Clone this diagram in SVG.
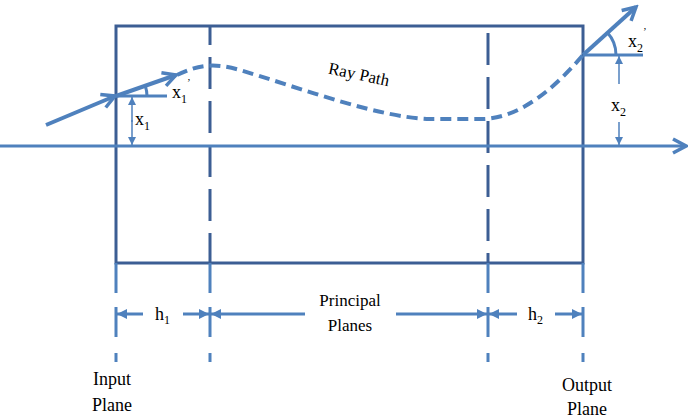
<svg xmlns="http://www.w3.org/2000/svg" width="688" height="420" viewBox="0 0 688 420">
<style>
.box{fill:none;stroke:#3C5E94;stroke-width:3}
.pp{fill:none;stroke:#3C5E94;stroke-width:3;stroke-dasharray:32 12}
.ext{fill:none;stroke:#4F81BD;stroke-width:3;stroke-dasharray:30 14 30 16 9 200}
.ray{fill:none;stroke:#4F81BD;stroke-width:4;stroke-linecap:butt}
.rayd{fill:none;stroke:#4F81BD;stroke-width:4;stroke-dasharray:11 6}
.axis{fill:none;stroke:#4F81BD;stroke-width:3}
.thin{fill:none;stroke:#4F81BD;stroke-width:3}
.dim{fill:none;stroke:#4F81BD;stroke-width:3}
.dimv{fill:none;stroke:#4F81BD;stroke-width:1.5}
text{font-family:"Liberation Serif","Times New Roman",serif;fill:#000;font-size:17px}
.big{font-size:18px}
.sub{font-size:12px}
</style>
<defs>
<marker id="chev" viewBox="0 0 18 18" refX="15" refY="9" markerWidth="18" markerHeight="18" markerUnits="userSpaceOnUse" orient="auto">
<path d="M2,2 L15,9 L2,16" fill="none" stroke="#4F81BD" stroke-width="3.5" stroke-linejoin="miter"/>
</marker>
<marker id="tri" viewBox="0 0 10 10" refX="10" refY="5" markerWidth="10" markerHeight="10" markerUnits="userSpaceOnUse" orient="auto">
<path d="M0,0 L10,5 L0,10 z" fill="#4F81BD"/>
</marker>
<marker id="tris" viewBox="0 0 10 10" refX="10" refY="5" markerWidth="8" markerHeight="8" markerUnits="userSpaceOnUse" orient="auto">
<path d="M0,0 L10,5 L0,10 z" fill="#4F81BD"/>
</marker>
</defs>

<g id="lens-box">
<rect class="box" x="116" y="26" width="467" height="237"/>
</g>
<g id="principal-planes">
<line class="pp" x1="210" y1="26" x2="210" y2="263" stroke-dashoffset="13"/>
<line class="pp" x1="488" y1="26" x2="488" y2="263" stroke-dashoffset="37"/>
</g>
<g id="extension-lines">
<line class="ext" x1="116" y1="263" x2="116" y2="362"/>
<line class="ext" x1="210" y1="263" x2="210" y2="362"/>
<line class="ext" x1="488" y1="263" x2="488" y2="362"/>
<line class="ext" x1="583" y1="263" x2="583" y2="362"/>
</g>
<g id="axis">
<line class="axis" x1="0" y1="146" x2="686" y2="146" marker-end="url(#chev)"/>
</g>

<g id="connectors">
<line class="ray" x1="46" y1="125" x2="115" y2="96" marker-end="url(#chev)"/>
<line class="ray" x1="116" y1="96" x2="176" y2="75" marker-end="url(#chev)"/>
<path class="rayd" d="M177,75 C200,64 215,63 240,70 C300,88 380,118 430,119 L483,119 C520,118 555,88 583,55"/>
<line class="ray" x1="583" y1="55" x2="636" y2="7" marker-end="url(#chev)"/>
<line class="thin" x1="116" y1="96" x2="167" y2="96"/>
<path class="thin" d="M147,96 A31,31 0 0 0 145.3,85.9"/>
<line class="thin" x1="583" y1="55" x2="643" y2="55"/>
<path class="thin" d="M616,55 A33,33 0 0 0 607.3,32.6"/>
<line class="dimv" x1="132" y1="122" x2="132" y2="97" marker-end="url(#tris)"/>
<line class="dimv" x1="132" y1="120" x2="132" y2="145" marker-end="url(#tris)"/>
<line class="dimv" x1="619" y1="84" x2="619" y2="56" marker-end="url(#tris)"/>
<line class="dimv" x1="619" y1="122" x2="619" y2="145" marker-end="url(#tris)"/>
<line class="dim" x1="143" y1="314" x2="117" y2="314" marker-end="url(#tri)"/>
<line class="dim" x1="183" y1="314" x2="209" y2="314" marker-end="url(#tri)"/>
<line class="dim" x1="305" y1="314" x2="211" y2="314" marker-end="url(#tri)"/>
<line class="dim" x1="396" y1="314" x2="487" y2="314" marker-end="url(#tri)"/>
<line class="dim" x1="517" y1="314" x2="489" y2="314" marker-end="url(#tri)"/>
<line class="dim" x1="555" y1="314" x2="582" y2="314" marker-end="url(#tri)"/>
</g>

<g id="labels">
<text x="172" y="98" class="big">x<tspan class="sub" dy="5">1</tspan><tspan font-size="11" dy="-17">’</tspan></text>
<text x="135" y="125" class="big">x<tspan class="sub" dy="5">1</tspan></text>
<text x="628" y="47" class="big">x<tspan class="sub" dy="5">2</tspan><tspan font-size="11" dy="-17">’</tspan></text>
<text x="611" y="111" class="big">x<tspan class="sub" dy="5">2</tspan></text>
<text x="326" y="80" transform="rotate(12 358 84)">Ray Path</text>
<text x="155" y="320" class="big">h<tspan class="sub" dy="4">1</tspan></text>
<text x="528" y="320" class="big">h<tspan class="sub" dy="4">2</tspan></text>
<text x="350" y="306" text-anchor="middle">Principal</text>
<text x="350" y="331" text-anchor="middle">Planes</text>
<text x="112" y="385" text-anchor="middle" class="big">Input</text>
<text x="112" y="411" text-anchor="middle" class="big">Plane</text>
<text x="587" y="391" text-anchor="middle" class="big">Output</text>
<text x="587" y="415" text-anchor="middle" class="big">Plane</text>
</g>
</svg>
